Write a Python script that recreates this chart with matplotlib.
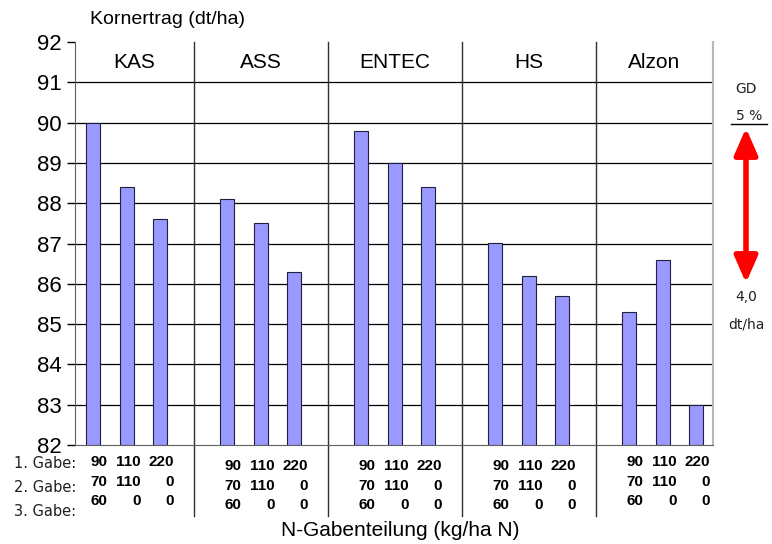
import matplotlib.pyplot as plt
import numpy as np

plt.rcParams["font.family"] = ["Liberation Sans", "DejaVu Sans"]

groups = ["KAS", "ASS", "ENTEC", "HS", "Alzon"]
ertrag = [
    [90.0, 88.4, 87.6],
    [88.1, 87.5, 86.3],
    [89.8, 89.0, 88.4],
    [87.0, 86.2, 85.7],
    [85.3, 86.6, 83.0],
]
gabe1 = ["90", "110", "220"]
gabe2 = ["70", "110", "0"]
gabe3 = ["60", "0", "0"]
row_labels = ["1. Gabe:", "2. Gabe:", "3. Gabe:"]
yticks = list(range(82, 93))

fig = plt.figure(figsize=(7.72, 5.44), dpi=100)
ax = fig.add_axes([75 / 772, 99 / 544, 638 / 772, 403 / 544])

# bars: 3 per group, one empty slot between groups
pos = [g * 4 + i for g in range(len(groups)) for i in range(3)]
vals = [v for row in ertrag for v in row]
ax.bar(pos, [v - 82 for v in vals], bottom=82, width=0.42,
       color="#9999ff", edgecolor="#202040", linewidth=0.8, zorder=3)

xmin, xmax = -0.54, 18.5
ax.set_xlim(xmin, xmax)
ax.set_ylim(82, 92)
ax.set_yticks(yticks)
ax.tick_params(axis="y", labelsize=16, length=6, direction="out", width=1, colors="black")
ax.set_xticks([])
for y in yticks[1:-1]:
    ax.axhline(y, color="black", lw=0.9, zorder=1)

ax.spines["top"].set_visible(False)
ax.spines["left"].set_color("#606060")
ax.spines["bottom"].set_color("#606060")
ax.spines["right"].set_color("#b8b8b8")
ax.spines["right"].set_linewidth(1.5)

trans = ax.get_xaxis_transform()
seps = [3, 7, 11, 15]
for sep in seps:
    ax.plot([sep, sep], [1.0, -0.175], transform=trans, color="#303030",
            lw=1, clip_on=False, zorder=2)

edges = [xmin] + seps + [xmax]
for g, name in enumerate(groups):
    ax.text((edges[g] + edges[g + 1]) / 2, 91.5, name, ha="center", va="center", fontsize=15)

# N-Gaben table below the axis
row_y = [-0.042, -0.092, -0.139]
group_dy = [0, -0.01, -0.01, -0.01, 0]
for g in range(len(groups)):
    for i in range(3):
        x = g * 4 + i + 0.42
        for r, col in enumerate([gabe1, gabe2, gabe3]):
            ax.text(x, row_y[r] + group_dy[g], col[i], transform=trans,
                    ha="right", va="center", fontsize=11, fontweight="bold")

for r, lab in enumerate(row_labels):
    fig.text(76 / 772, 1 - (464 + r * 24) / 544, lab, ha="right", va="center",
             fontsize=10.5, color="#202020", family="DejaVu Sans")

fig.text(90 / 772, 1 - 20 / 544, "Kornertrag (dt/ha)", ha="left", va="center", fontsize=14)
fig.text(400 / 772, 1 - 530 / 544, "N-Gabenteilung (kg/ha N)", ha="center", va="center", fontsize=15)

# GD 5% annotation
side = dict(ha="center", va="center", fontsize=10, color="#202020", family="DejaVu Sans")
fig.text(746 / 772, 1 - 89 / 544, "GD", **side)
fig.text(749 / 772, 1 - 116 / 544, "5 %", **side)
fig.add_artist(plt.Line2D([731 / 772, 767 / 772], [1 - 124 / 544, 1 - 124 / 544], color="black", lw=1))
ax.annotate("", xy=(746 / 772, 1 - 128 / 544), xytext=(746 / 772, 1 - 283 / 544),
            xycoords="figure fraction", textcoords="figure fraction",
            arrowprops=dict(arrowstyle="<|-|>,head_length=1.6,head_width=0.7",
                            color="#ff0000", lw=4, shrinkA=0, shrinkB=0),
            annotation_clip=False)
fig.text(746 / 772, 1 - 297 / 544, "4,0", **side)
fig.text(746 / 772, 1 - 325 / 544, "dt/ha", **side)

fig.savefig("out.png", dpi=100)
